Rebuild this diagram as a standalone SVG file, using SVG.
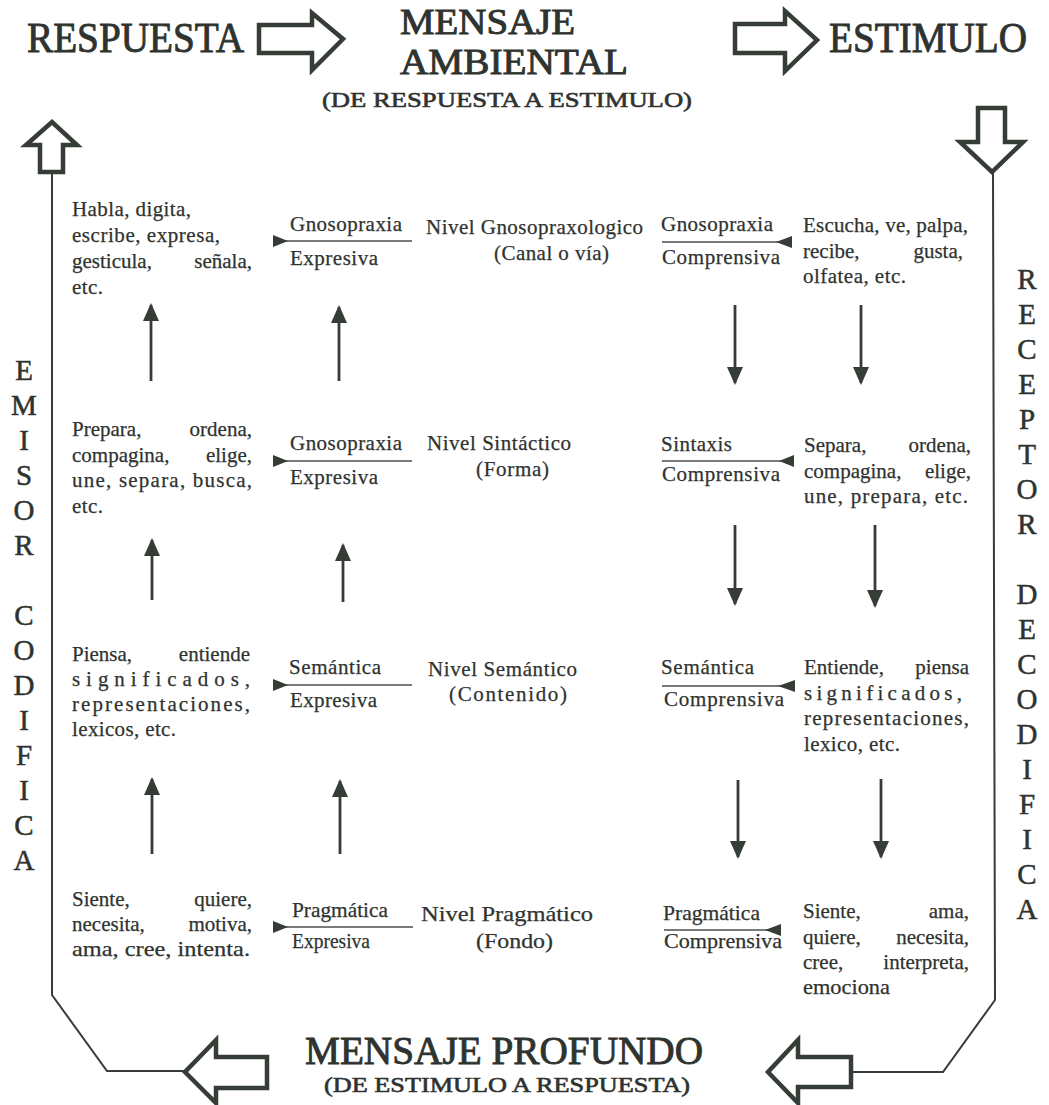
<svg xmlns="http://www.w3.org/2000/svg" width="1049" height="1105" viewBox="0 0 1049 1105">
<defs>
<style>
.t{font-family:"Liberation Serif","Times New Roman",serif;font-size:21px;fill:#2f332f;stroke:#2f332f;stroke-width:0.25}
.h{font-family:"Liberation Serif","Times New Roman",serif;font-size:42px;fill:#2f332f;stroke:#2f332f;stroke-width:0.9}
.s{font-family:"Liberation Serif","Times New Roman",serif;font-size:22px;fill:#2f332f;stroke:#2f332f;stroke-width:0.6}
.v{font-family:"Liberation Serif","Times New Roman",serif;font-size:29px;fill:#2f332f;stroke:#2f332f;stroke-width:0.5;text-anchor:middle}
.e{text-anchor:end}
.blk{fill:#fff;stroke:#363c36;stroke-width:4.5;stroke-linejoin:miter}
.loop{fill:none;stroke:#363c36;stroke-width:2}
.ar{stroke:#363c36;stroke-width:2.8;marker-end:url(#ah)}
.fl{stroke:#4a4f4a;stroke-width:1.3}
.tri{fill:#363c36}
</style>
<marker id="ah" viewBox="0 0 18 16" refX="16" refY="8" markerWidth="18" markerHeight="16" markerUnits="userSpaceOnUse" orient="auto">
<path d="M0,0 L18,8 L0,16 z" fill="#363c36"/>
</marker>
</defs>
<rect width="1049" height="1105" fill="#fff"/>

<g id="header">
<text class="h" x="27" y="52" textLength="217" lengthAdjust="spacingAndGlyphs">RESPUESTA</text>
<text class="h" x="400" y="34" textLength="175" lengthAdjust="spacingAndGlyphs" style="font-size:35px">MENSAJE</text>
<text class="h" x="400" y="74" textLength="228" lengthAdjust="spacingAndGlyphs" style="font-size:35px">AMBIENTAL</text>
<text class="s" x="322" y="107" textLength="370" lengthAdjust="spacingAndGlyphs">(DE RESPUESTA A ESTIMULO)</text>
<text class="h" x="829" y="52" textLength="198" lengthAdjust="spacingAndGlyphs">ESTIMULO</text>
</g>

<g id="block-arrows">
<polygon class="blk" points="259,25 312,25 312,13 343,39 312,70 312,53 259,53"/>
<polygon class="blk" points="735,24 785,24 785,11 817,40 785,71 785,53 735,53"/>
<polygon class="blk" points="40,172 40,145 26,145 52,122 77,145 63,145 63,172"/>
<polygon class="blk" points="978,108 1005,108 1005,142 1023,142 992,172 960,142 978,142"/>
<polygon class="blk" points="267,1057 216,1057 216,1040 185,1072 216,1103 216,1088 267,1088"/>
<polygon class="blk" points="851,1057 798,1057 798,1040 768,1072 798,1103 798,1087 851,1087"/>
</g>

<g id="connectors">
<polyline class="loop" points="52,172 52,995 107,1071 185,1071"/>
<polyline class="loop" points="993,172 995,1000 943,1072 851,1072"/>
<line class="ar" x1="151" y1="381" x2="151" y2="305"/>
<line class="ar" x1="339" y1="381" x2="339" y2="307"/>
<line class="ar" x1="152" y1="600" x2="152" y2="540"/>
<line class="ar" x1="343" y1="602" x2="343" y2="545"/>
<line class="ar" x1="152" y1="854" x2="152" y2="779"/>
<line class="ar" x1="340" y1="854" x2="340" y2="781"/>
<line class="ar" x1="735" y1="305" x2="735" y2="383"/>
<line class="ar" x1="861" y1="305" x2="861" y2="383"/>
<line class="ar" x1="735" y1="525" x2="735" y2="604"/>
<line class="ar" x1="875" y1="525" x2="875" y2="606"/>
<line class="ar" x1="738" y1="780" x2="738" y2="857"/>
<line class="ar" x1="881" y1="779" x2="881" y2="857"/>
</g>

<g id="emisor-codifica">
<text class="v" x="24" y="380">E</text>
<text class="v" x="24" y="415">M</text>
<text class="v" x="24" y="450">I</text>
<text class="v" x="24" y="485">S</text>
<text class="v" x="24" y="520">O</text>
<text class="v" x="24" y="555">R</text>
<text class="v" x="24" y="625">C</text>
<text class="v" x="24" y="660">O</text>
<text class="v" x="24" y="695">D</text>
<text class="v" x="24" y="730">I</text>
<text class="v" x="24" y="765">F</text>
<text class="v" x="24" y="800">I</text>
<text class="v" x="24" y="835">C</text>
<text class="v" x="24" y="870">A</text>
</g>

<g id="receptor-decodifica">
<text class="v" x="1027" y="289">R</text>
<text class="v" x="1027" y="324">E</text>
<text class="v" x="1027" y="359">C</text>
<text class="v" x="1027" y="394">E</text>
<text class="v" x="1027" y="429">P</text>
<text class="v" x="1027" y="464">T</text>
<text class="v" x="1027" y="499">O</text>
<text class="v" x="1027" y="534">R</text>
<text class="v" x="1027" y="604">D</text>
<text class="v" x="1027" y="639">E</text>
<text class="v" x="1027" y="674">C</text>
<text class="v" x="1027" y="709">O</text>
<text class="v" x="1027" y="744">D</text>
<text class="v" x="1027" y="779">I</text>
<text class="v" x="1027" y="814">F</text>
<text class="v" x="1027" y="849">I</text>
<text class="v" x="1027" y="884">C</text>
<text class="v" x="1027" y="919">A</text>
</g>

<!-- Row 1 -->
<g id="emisor-gnoso">
<text class="t" x="72" y="216" textLength="119" lengthAdjust="spacing">Habla, digita,</text>
<text class="t" x="72" y="242" textLength="148" lengthAdjust="spacing">escribe, expresa,</text>
<text class="t" y="268"><tspan x="72">gesticula,</tspan><tspan x="252" class="e">señala,</tspan></text>
<text class="t" x="72" y="294" textLength="31" lengthAdjust="spacing">etc.</text>
</g>
<g id="frac-exp-gnoso">
<text class="t" x="290" y="231" textLength="112" lengthAdjust="spacing">Gnosopraxia</text>
<line class="fl" x1="275" y1="241" x2="412" y2="241"/>
<polygon class="tri" points="273,235 288,241 273,247"/>
<text class="t" x="290" y="265" textLength="88" lengthAdjust="spacing">Expresiva</text>
</g>
<g id="nivel-gnoso">
<text class="t" x="426" y="234" textLength="217" lengthAdjust="spacing">Nivel Gnosopraxologico</text>
<text class="t" x="494" y="260" textLength="115" lengthAdjust="spacing">(Canal o vía)</text>
</g>
<g id="frac-comp-gnoso">
<text class="t" x="661" y="231" textLength="112" lengthAdjust="spacing">Gnosopraxia</text>
<line class="fl" x1="662" y1="242" x2="790" y2="242"/>
<polygon class="tri" points="792,236 776,242 792,248"/>
<text class="t" x="662" y="264" textLength="118" lengthAdjust="spacing">Comprensiva</text>
</g>
<g id="receptor-gnoso">
<text class="t" x="803" y="232" textLength="165" lengthAdjust="spacing">Escucha, ve, palpa,</text>
<text class="t" y="258"><tspan x="803">recibe,</tspan><tspan x="963" class="e">gusta,</tspan></text>
<text class="t" x="803" y="283" textLength="103" lengthAdjust="spacing">olfatea, etc.</text>
</g>

<!-- Row 2 -->
<g id="emisor-sint">
<text class="t" y="436"><tspan x="72">Prepara,</tspan><tspan x="252" class="e">ordena,</tspan></text>
<text class="t" y="462"><tspan x="72">compagina,</tspan><tspan x="252" class="e">elige,</tspan></text>
<text class="t" x="72" y="487" textLength="180" lengthAdjust="spacing">une, separa, busca,</text>
<text class="t" x="72" y="513" textLength="31" lengthAdjust="spacing">etc.</text>
</g>
<g id="frac-exp-sint">
<text class="t" x="290" y="450" textLength="112" lengthAdjust="spacing">Gnosopraxia</text>
<line class="fl" x1="275" y1="461" x2="412" y2="461"/>
<polygon class="tri" points="273,455 288,461 273,467"/>
<text class="t" x="290" y="484" textLength="88" lengthAdjust="spacing">Expresiva</text>
</g>
<g id="nivel-sint">
<text class="t" x="427" y="450" textLength="144" lengthAdjust="spacing">Nivel Sintáctico</text>
<text class="t" x="476" y="476" textLength="73" lengthAdjust="spacing">(Forma)</text>
</g>
<g id="frac-comp-sint">
<text class="t" x="661" y="451" textLength="71" lengthAdjust="spacing">Sintaxis</text>
<line class="fl" x1="662" y1="461" x2="792" y2="461"/>
<polygon class="tri" points="794,455 779,461 794,467"/>
<text class="t" x="662" y="481" textLength="118" lengthAdjust="spacing">Comprensiva</text>
</g>
<g id="receptor-sint">
<text class="t" y="452"><tspan x="804">Separa,</tspan><tspan x="971" class="e">ordena,</tspan></text>
<text class="t" y="478"><tspan x="804">compagina,</tspan><tspan x="971" class="e">elige,</tspan></text>
<text class="t" x="804" y="503" textLength="164" lengthAdjust="spacing">une, prepara, etc.</text>
</g>

<!-- Row 3 -->
<g id="emisor-sem">
<text class="t" y="661"><tspan x="72">Piensa,</tspan><tspan x="250" class="e">entiende</tspan></text>
<text class="t" x="72" y="686" textLength="178" lengthAdjust="spacing">significados,</text>
<text class="t" x="72" y="711" textLength="178" lengthAdjust="spacing">representaciones,</text>
<text class="t" x="72" y="736" textLength="104" lengthAdjust="spacing">lexicos, etc.</text>
</g>
<g id="frac-exp-sem">
<text class="t" x="289" y="674" textLength="92" lengthAdjust="spacing">Semántica</text>
<line class="fl" x1="275" y1="685" x2="412" y2="685"/>
<polygon class="tri" points="273,679 288,685 273,691"/>
<text class="t" x="290" y="707" textLength="87" lengthAdjust="spacing">Expresiva</text>
</g>
<g id="nivel-sem">
<text class="t" x="428" y="676" textLength="149" lengthAdjust="spacing">Nivel Semántico</text>
<text class="t" x="449" y="701" textLength="118" lengthAdjust="spacing">(Contenido)</text>
</g>
<g id="frac-comp-sem">
<text class="t" x="661" y="674" textLength="93" lengthAdjust="spacing">Semántica</text>
<line class="fl" x1="662" y1="686" x2="793" y2="686"/>
<polygon class="tri" points="795,680 778,686 795,692"/>
<text class="t" x="664" y="706" textLength="120" lengthAdjust="spacing">Comprensiva</text>
</g>
<g id="receptor-sem">
<text class="t" y="674"><tspan x="804">Entiende,</tspan><tspan x="969" class="e">piensa</tspan></text>
<text class="t" x="804" y="700" textLength="158" lengthAdjust="spacing">significados,</text>
<text class="t" x="804" y="725" textLength="165" lengthAdjust="spacing">representaciones,</text>
<text class="t" x="804" y="751" textLength="96" lengthAdjust="spacing">lexico, etc.</text>
</g>

<!-- Row 4 -->
<g id="emisor-prag">
<text class="t" y="906"><tspan x="72">Siente,</tspan><tspan x="252" class="e">quiere,</tspan></text>
<text class="t" y="931"><tspan x="72">necesita,</tspan><tspan x="252" class="e">motiva,</tspan></text>
<text class="t" x="72" y="956" textLength="178" lengthAdjust="spacingAndGlyphs">ama, cree, intenta.</text>
</g>
<g id="frac-exp-prag">
<text class="t" x="292" y="917" textLength="96" lengthAdjust="spacingAndGlyphs">Pragmática</text>
<line class="fl" x1="275" y1="927" x2="413" y2="927"/>
<polygon class="tri" points="273,921 288,927 273,933"/>
<text class="t" x="292" y="948" textLength="78" lengthAdjust="spacingAndGlyphs">Expresiva</text>
</g>
<g id="nivel-prag">
<text class="t" x="421" y="921" textLength="172" lengthAdjust="spacingAndGlyphs">Nivel Pragmático</text>
<text class="t" x="476" y="948" textLength="77" lengthAdjust="spacingAndGlyphs">(Fondo)</text>
</g>
<g id="frac-comp-prag">
<text class="t" x="663" y="920" textLength="97" lengthAdjust="spacingAndGlyphs">Pragmática</text>
<line class="fl" x1="664" y1="930" x2="779" y2="930"/>
<polygon class="tri" points="781,924 765,930 781,936"/>
<text class="t" x="664" y="948" textLength="118" lengthAdjust="spacingAndGlyphs">Comprensiva</text>
</g>
<g id="receptor-prag">
<text class="t" y="918"><tspan x="803">Siente,</tspan><tspan x="969" class="e">ama,</tspan></text>
<text class="t" y="944"><tspan x="803">quiere,</tspan><tspan x="969" class="e">necesita,</tspan></text>
<text class="t" y="969"><tspan x="803">cree,</tspan><tspan x="969" class="e">interpreta,</tspan></text>
<text class="t" x="803" y="994" textLength="87" lengthAdjust="spacingAndGlyphs">emociona</text>
</g>

<g id="footer">
<text class="h" x="305" y="1064" textLength="398" lengthAdjust="spacingAndGlyphs" style="font-size:40px">MENSAJE PROFUNDO</text>
<text class="s" x="324" y="1092" textLength="366" lengthAdjust="spacingAndGlyphs" style="font-size:21px">(DE ESTIMULO A RESPUESTA)</text>
</g>
</svg>
